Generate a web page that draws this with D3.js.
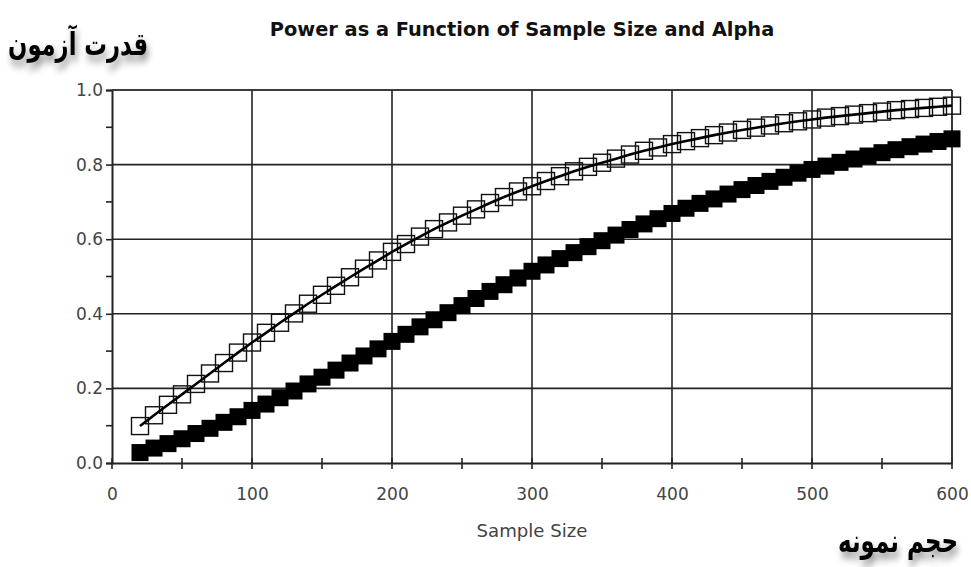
<!DOCTYPE html>
<html lang="en">
<head>
<meta charset="UTF-8">
<title>Power as a Function of Sample Size and Alpha</title>
<style>
  body { margin: 0; background: #fff; }
  text { font-family: "DejaVu Sans", Verdana, sans-serif; }
</style>
</head>
<body>
<div id="chart"></div>
<script src="https://d3js.org/d3.v7.min.js"></script>
<script>
// sample sizes (x) and power values
var sampleSize = d3.range(20, 601, 10);
var powerAlpha05 = [0.099, 0.128, 0.156, 0.184, 0.212, 0.240, 0.268, 0.296, 0.323, 0.349,
  0.376, 0.401, 0.427, 0.451, 0.475, 0.498, 0.521, 0.543, 0.566, 0.587,
  0.607, 0.627, 0.645, 0.663, 0.680, 0.697, 0.713, 0.728, 0.742, 0.756,
  0.769, 0.782, 0.794, 0.805, 0.816, 0.827, 0.837, 0.846, 0.855, 0.863,
  0.871, 0.879, 0.886, 0.893, 0.899, 0.905, 0.911, 0.916, 0.921, 0.926,
  0.930, 0.934, 0.938, 0.942, 0.946, 0.949, 0.952, 0.955, 0.958];
var powerAlpha01 = [0.028, 0.040, 0.052, 0.065, 0.079, 0.093, 0.109, 0.124, 0.141, 0.158,
  0.175, 0.193, 0.212, 0.230, 0.249, 0.268, 0.287, 0.306, 0.326, 0.345,
  0.365, 0.384, 0.403, 0.422, 0.441, 0.460, 0.478, 0.496, 0.514, 0.531,
  0.548, 0.564, 0.580, 0.596, 0.611, 0.626, 0.641, 0.655, 0.669, 0.683,
  0.696, 0.708, 0.721, 0.733, 0.744, 0.755, 0.766, 0.777, 0.787, 0.796,
  0.806, 0.815, 0.823, 0.832, 0.840, 0.848, 0.855, 0.862, 0.869];
var xTicks = [0, 100, 200, 300, 400, 500, 600];
var xMinor = [50, 150, 250, 350, 450, 550];
var yTicks = [0.0, 0.2, 0.4, 0.6, 0.8, 1.0];
var yMinor = [0.1, 0.3, 0.5, 0.7, 0.9];
var title = "Power as a Function of Sample Size and Alpha";
var xLabel = "Sample Size";
var faXLabel = "حجم نمونه";
var faYLabel = "قدرت آزمون";

var W = 971, H = 567;
var margin = {top: 90, right: 19, bottom: 104, left: 112},
    width = W - margin.left - margin.right,
    height = H - margin.top - margin.bottom;

var svg = d3.select("#chart").append("svg")
    .attr("width", W)
    .attr("height", H);

// shrink/grow a text so it spans about w pixels
function fitWidth(t, w) {
  var fs = parseFloat(t.style("font-size"));
  var len = t.node().getComputedTextLength();
  if (len > 0) t.style("font-size", (fs * w / len).toFixed(2) + "px");
}

// soft shadow for the persian labels
var defs = svg.append("defs");
var f = defs.append("filter").attr("id", "shadow")
    .attr("x", "-20%").attr("y", "-40%").attr("width", "140%").attr("height", "200%");
f.append("feGaussianBlur").attr("in", "SourceAlpha").attr("stdDeviation", 3).attr("result", "b");
f.append("feOffset").attr("in", "b").attr("dx", 2).attr("dy", 4).attr("result", "o");
f.append("feComponentTransfer").attr("in", "o").attr("result", "s")
  .append("feFuncA").attr("type", "linear").attr("slope", 0.45);
var fm = f.append("feMerge");
fm.append("feMergeNode").attr("in", "s");
fm.append("feMergeNode").attr("in", "SourceGraphic");

var g = svg.append("g")
    .attr("transform", "translate(" + margin.left + "," + margin.top + ")");

var x = d3.scaleLinear().domain([0, 600]).range([0, width]);
var y = d3.scaleLinear().domain([0, 1]).range([height, 0]);

// grid
g.selectAll(".vgrid").data(xTicks.slice(1))
  .enter().append("line")
    .attr("x1", d => x(d)).attr("x2", d => x(d))
    .attr("y1", 0).attr("y2", height)
    .style("stroke", "#222").style("stroke-width", 1.6);
g.selectAll(".hgrid").data(yTicks.slice(1))
  .enter().append("line")
    .attr("x1", 0).attr("x2", width)
    .attr("y1", d => y(d)).attr("y2", d => y(d))
    .style("stroke", "#222").style("stroke-width", 1.6);

// axes
var xAxis = g.append("g")
    .attr("transform", "translate(0," + height + ")")
    .call(d3.axisBottom(x).tickValues(xTicks).tickSize(0).tickPadding(25).tickFormat(d3.format("d")));
var yAxis = g.append("g")
    .call(d3.axisLeft(y).tickValues(yTicks).tickSize(6).tickPadding(3).tickFormat(d3.format(".1f")));
[xAxis, yAxis].forEach(function(a) {
  a.select(".domain").style("stroke", "#222").style("stroke-width", 2);
  a.selectAll("line").style("stroke", "#222").style("stroke-width", 1.6);
  a.selectAll("text").style("font-size", "17px").style("fill", "#444")
    .style("font-family", "'DejaVu Sans', Verdana, sans-serif");
});
// tick marks across the x axis
g.selectAll(".xt").data(xTicks.concat(xMinor))
  .enter().append("line")
    .attr("x1", d => x(d)).attr("x2", d => x(d))
    .attr("y1", height - 5).attr("y2", height + 6)
    .style("stroke", "#222").style("stroke-width", 1.6);
g.selectAll(".ym").data(yMinor)
  .enter().append("line")
    .attr("x1", -6).attr("x2", 0)
    .attr("y1", d => y(d)).attr("y2", d => y(d))
    .style("stroke", "#222").style("stroke-width", 1.6);

// frame top / right
g.append("line").attr("x1", 0).attr("x2", width).attr("y1", 0).attr("y2", 0)
  .style("stroke", "#333").style("stroke-width", 1.6);
g.append("line").attr("x1", width).attr("x2", width).attr("y1", 0).attr("y2", height)
  .style("stroke", "#333").style("stroke-width", 1.6);

var sq = 17;
var ptsLow = sampleSize.map((n, i) => ({n: n, p: powerAlpha01[i]}));
var ptsHigh = sampleSize.map((n, i) => ({n: n, p: powerAlpha05[i]}));

// alpha = 0.01, filled squares
g.selectAll(".f").data(ptsLow)
  .enter().append("rect")
    .attr("x", d => x(d.n) - sq / 2)
    .attr("y", d => y(d.p) - sq / 2)
    .attr("width", sq).attr("height", sq)
    .style("fill", "#000");

// alpha = 0.05, open squares with a line
var line = d3.line().x(d => x(d.n)).y(d => y(d.p));
g.selectAll(".o").data(ptsHigh)
  .enter().append("rect")
    .attr("x", d => x(d.n) - sq / 2)
    .attr("y", d => y(d.p) - sq / 2)
    .attr("width", sq).attr("height", sq)
    .style("fill", "none").style("stroke", "#111").style("stroke-width", 1.4);
g.append("path").datum(ptsHigh)
    .attr("d", line)
    .style("fill", "none").style("stroke", "#000").style("stroke-width", 2.6);

// titles
var tt = svg.append("text")
    .attr("x", 522).attr("y", 36)
    .attr("text-anchor", "middle")
    .style("font-size", "17px").style("font-weight", "bold").style("fill", "#111")
    .text(title);
fitWidth(tt, 505);
var xl = svg.append("text")
    .attr("x", 532).attr("y", 537)
    .attr("text-anchor", "middle")
    .style("font-size", "17px").style("fill", "#444")
    .text(xLabel);
fitWidth(xl, 111);
// persian labels, stretched a bit vertically like the bold source font
var fy = svg.append("text")
    .attr("transform", "translate(148,55) scale(1,1.4)")
    .attr("text-anchor", "end")
    .attr("filter", "url(#shadow)")
    .style("font-size", "25px").style("font-weight", "bold").style("fill", "#000")
    .text(faYLabel);
fitWidth(fy, 140);
var fx = svg.append("text")
    .attr("transform", "translate(958,552) scale(1,1.4)")
    .attr("text-anchor", "end")
    .attr("filter", "url(#shadow)")
    .style("font-size", "23px").style("font-weight", "bold").style("fill", "#000")
    .text(faXLabel);
fitWidth(fx, 120);
</script>
</body>
</html>
